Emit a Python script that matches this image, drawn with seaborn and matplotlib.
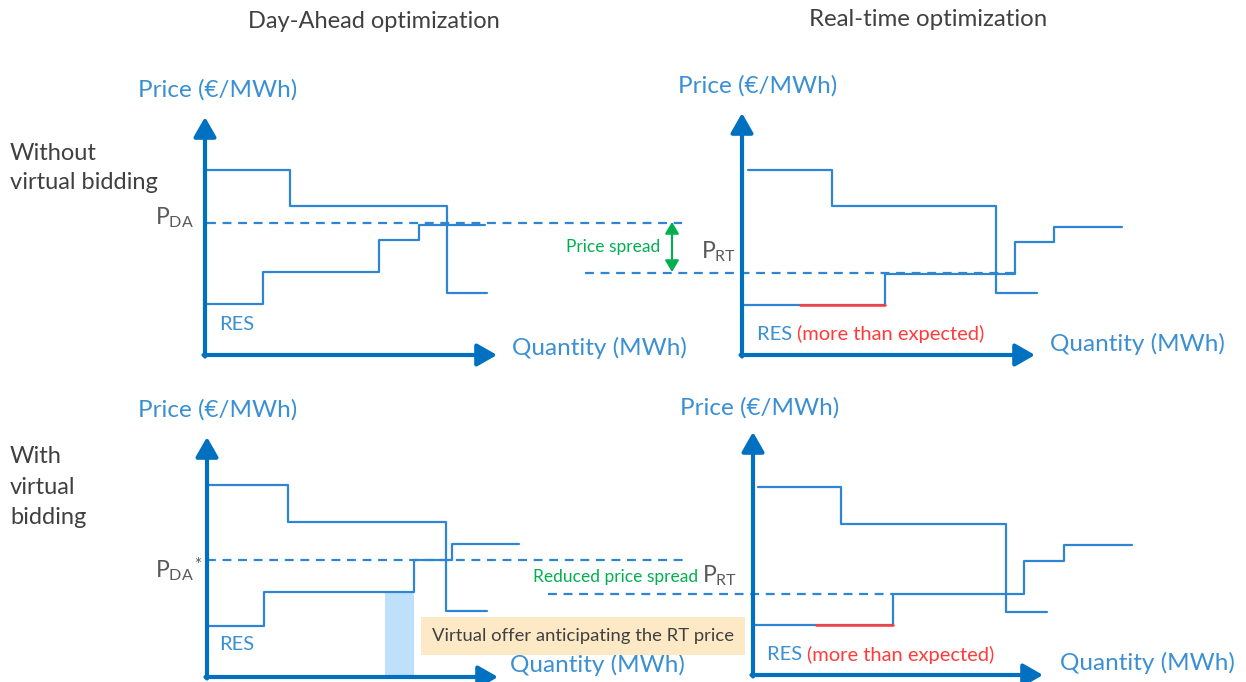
import matplotlib.pyplot as plt
import seaborn as sns

# diagram units: 1 unit = 1 px of the reference picture, y grows downwards
DA_TOP_DEMAND_Q = [207, 290, 447, 487]
DA_TOP_DEMAND_P = [170, 206, 293, 293]
DA_TOP_SUPPLY_Q = [207, 263, 379, 419, 485]
DA_TOP_SUPPLY_P = [304, 272, 240, 225, 225]

RT_TOP_DEMAND_Q = [748, 832, 996, 1037]
RT_TOP_DEMAND_P = [170, 206, 293, 293]
RT_TOP_SUPPLY_Q = [744, 885, 1015, 1054, 1122]
RT_TOP_SUPPLY_P = [305, 274, 242, 227, 227]
RT_TOP_EXTRA_RES_Q = [800, 885]
RT_TOP_EXTRA_RES_P = [305, 305]

DA_BOT_DEMAND_Q = [208, 288, 446, 487]
DA_BOT_DEMAND_P = [485, 522, 611, 611]
DA_BOT_SUPPLY_Q = [207, 264, 414, 452, 519]
DA_BOT_SUPPLY_P = [626, 592, 560, 544, 544]
VIRTUAL_OFFER_Q = [385, 414]
VIRTUAL_OFFER_P = [592, 677]

RT_BOT_DEMAND_Q = [758, 841, 1006, 1047]
RT_BOT_DEMAND_P = [487, 524, 612, 612]
RT_BOT_SUPPLY_Q = [753, 893, 1024, 1064, 1132]
RT_BOT_SUPPLY_P = [625, 594, 561, 545, 545]
RT_BOT_EXTRA_RES_Q = [816, 893]
RT_BOT_EXTRA_RES_P = [625, 625]

# clearing prices: (price level, quantity from, quantity to)
PRICE_LINES = [
    (223, 207, 682),   # P_DA
    (273, 585, 1014),  # P_RT top
    (560, 207, 688),   # P_DA*
    (594, 548, 893),   # P_RT bottom
]

# axes of the four panels: origin and arrow tips
PANELS = [
    dict(origin=(205, 355), xtip=497, ytip=117),
    dict(origin=(742, 355), xtip=1035, ytip=113),
    dict(origin=(207, 677), xtip=498, ytip=437),
    dict(origin=(753, 675), xtip=1043, ytip=432),
]

AXIS_BLUE = '#0070C0'
CURVE_BLUE = '#2E86D2'
TEXT_BLUE = '#3B8FD3'
GRAY = '#404040'
PGRAY = '#595959'
RED = '#FF3B3B'
GREEN = '#00B050'

sns.set_theme(style='white')
plt.rcParams['font.family'] = ['Lato', 'DejaVu Sans']

fig = plt.figure(figsize=(12.46, 6.82), dpi=100)
ax = fig.add_axes([0, 0, 1, 1])
ax.set_xlim(0, 1246)
ax.set_ylim(682, 0)
ax.axis('off')


def step(q, p, color=CURVE_BLUE):
    sns.lineplot(x=q, y=p, ax=ax, sort=False, estimator=None, color=color,
                 lw=1.6, drawstyle='steps-post', legend=False)


for q, p in [(DA_TOP_DEMAND_Q, DA_TOP_DEMAND_P), (DA_TOP_SUPPLY_Q, DA_TOP_SUPPLY_P),
             (RT_TOP_DEMAND_Q, RT_TOP_DEMAND_P), (RT_TOP_SUPPLY_Q, RT_TOP_SUPPLY_P),
             (DA_BOT_DEMAND_Q, DA_BOT_DEMAND_P), (DA_BOT_SUPPLY_Q, DA_BOT_SUPPLY_P),
             (RT_BOT_DEMAND_Q, RT_BOT_DEMAND_P), (RT_BOT_SUPPLY_Q, RT_BOT_SUPPLY_P)]:
    step(q, p)

for level, q0, q1 in PRICE_LINES:
    ax.plot([q0, q1], [level, level], color=CURVE_BLUE, lw=1.6, dashes=(4, 3))

ax.plot(RT_TOP_EXTRA_RES_Q, RT_TOP_EXTRA_RES_P, color=RED, lw=1.8)
ax.plot(RT_BOT_EXTRA_RES_Q, RT_BOT_EXTRA_RES_P, color=RED, lw=1.8)

ax.fill_between(VIRTUAL_OFFER_Q, VIRTUAL_OFFER_P[0], VIRTUAL_OFFER_P[1],
                color='#BFE0FA', lw=0, zorder=0)

# panel axes with arrows
for pn in PANELS:
    x0, y0 = pn['origin']
    style = dict(arrowstyle='-|>,head_length=0.7,head_width=0.4', lw=3,
                 color=AXIS_BLUE, shrinkA=0, shrinkB=0, mutation_scale=17)
    ax.annotate('', xy=(pn['xtip'], y0), xytext=(x0 - 1.5, y0), arrowprops=style)
    ax.annotate('', xy=(x0, pn['ytip']), xytext=(x0, y0 + 1.5), arrowprops=style)

# titles and row labels
ax.text(374, 22, 'Day-Ahead optimization', fontsize=17, color=GRAY, ha='center', va='center')
ax.text(928, 20, 'Real-time optimization', fontsize=17.3, color=GRAY, ha='center', va='center')
ax.text(10, 168, 'Without\nvirtual bidding', fontsize=17, color=GRAY, va='center',
        linespacing=1.5)
ax.text(10, 487, 'With\nvirtual\nbidding', fontsize=17, color=GRAY, va='center',
        linespacing=1.55)

# axis labels
for x, y in [(138, 90), (678, 86), (138, 410), (680, 408)]:
    ax.text(x, y, 'Price (€/MWh)', fontsize=17.5, color=TEXT_BLUE, va='center')
for x, y in [(512, 348), (1050, 344), (510, 665), (1060, 663)]:
    ax.text(x, y, 'Quantity (MWh)', fontsize=17.5, color=TEXT_BLUE, va='center')

ax.text(219, 324, 'RES', fontsize=14.5, color=TEXT_BLUE, va='center')
ax.text(219, 645, 'RES', fontsize=14.5, color=TEXT_BLUE, va='center')
for x, y in [(757, 334), (767, 655)]:
    t = ax.text(x, y, 'RES ', fontsize=14.5, color=TEXT_BLUE, va='center')
    ax.annotate('(more than expected)', xycoords=t, xy=(1, 0.5), va='center',
                fontsize=14.5, color=RED)

# price labels
ax.text(155, 218, r'P$_{\mathregular{DA}}$', fontsize=16.5, color=PGRAY, va='center')
t = ax.text(155, 571, r'P$_{\mathregular{DA}}$', fontsize=16.5, color=PGRAY, va='center')
ax.annotate('*', xycoords=t, xy=(1, 1.08), va='top', fontsize=12, color=PGRAY)
ax.text(701, 252, r'P$_{\mathregular{RT}}$', fontsize=16.5, color=PGRAY, va='center')
ax.text(702, 576, r'P$_{\mathregular{RT}}$', fontsize=16.5, color=PGRAY, va='center')

# price spread annotation
ax.annotate('', xy=(672, 222), xytext=(672, 272),
            arrowprops=dict(arrowstyle='<|-|>,head_length=0.5,head_width=0.3', lw=1.5,
                            color=GREEN, shrinkA=0, shrinkB=0, mutation_scale=14))
ax.text(660, 247, 'Price spread', fontsize=12.5, color=GREEN, ha='right', va='center')
ax.text(698, 577, 'Reduced price spread', fontsize=12.5, color=GREEN, ha='right',
        va='center')

ax.text(432, 636, 'Virtual offer anticipating the RT price', fontsize=13.3, color=GRAY,
        va='center', bbox=dict(boxstyle='square,pad=0.6', fc='#FDE9C5', ec='none'))

fig.savefig('out.png', dpi=100)
